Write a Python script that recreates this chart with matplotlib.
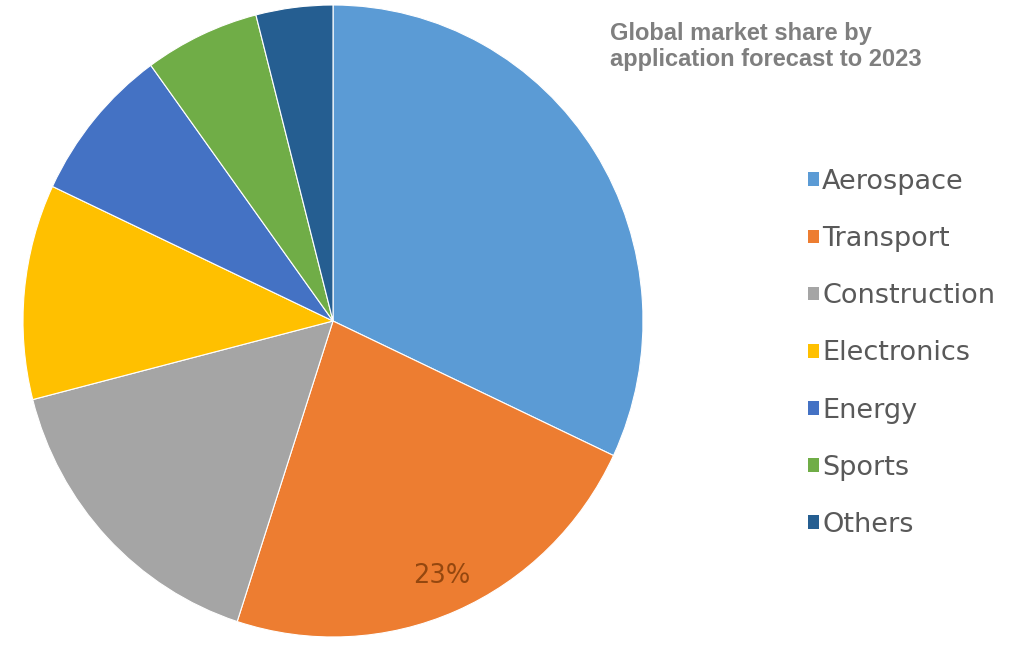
import matplotlib
matplotlib.use("Agg")
import matplotlib.pyplot as plt
from matplotlib.patches import Patch

categories = ["Aerospace", "Transport", "Construction", "Electronics", "Energy", "Sports", "Others"]
shares = [32, 23, 16, 11, 8, 6, 4]
colors = ["#5B9BD5", "#ED7D31", "#A5A5A5", "#FFC000", "#4472C4", "#70AD47", "#255E91"]
shown_label = "Transport"
title = "Global market share by\napplication forecast to 2023"

W, H = 1017, 645
fig = plt.figure(figsize=(W / 100, H / 100), dpi=100)
ax = fig.add_axes([23 / W, (H - 637) / H, 620 / W, 632 / H])

idx_show = categories.index(shown_label)
counter = {"i": -1}


def fmt(pct):
    counter["i"] += 1
    return f"{pct:.0f}%" if counter["i"] == idx_show else ""


wedges, texts, autotexts = ax.pie(
    shares, colors=colors, startangle=90, counterclock=False,
    autopct=fmt, pctdistance=0.88,
    wedgeprops=dict(edgecolor="white", linewidth=0.8),
    textprops=dict(color="#94470F", fontsize=18.5, family="DejaVu Sans"),
)
ax.set_aspect("auto")
ax.set_xlim(-1, 1)
ax.set_ylim(-1, 1)
ax.axis("off")

fig.text(610 / W, 1 - 22 / H, title, ha="left", va="top", fontsize=17,
         fontweight="bold", color="#7F7F7F", family="Liberation Sans", linespacing=1.17)

handles = [Patch(facecolor=c, edgecolor="none") for c in colors]
leg = fig.legend(handles, categories, loc="upper left",
                 bbox_to_anchor=(808 / W, 1 - 169 / H), frameon=False,
                 prop=dict(family="DejaVu Sans", size=19.5),
                 handlelength=0.4, handleheight=0.4, handletextpad=0.12,
                 labelspacing=1.15, borderpad=0, borderaxespad=0)
for t in leg.get_texts():
    t.set_color("#595959")

fig.savefig("out.png", dpi=100)
